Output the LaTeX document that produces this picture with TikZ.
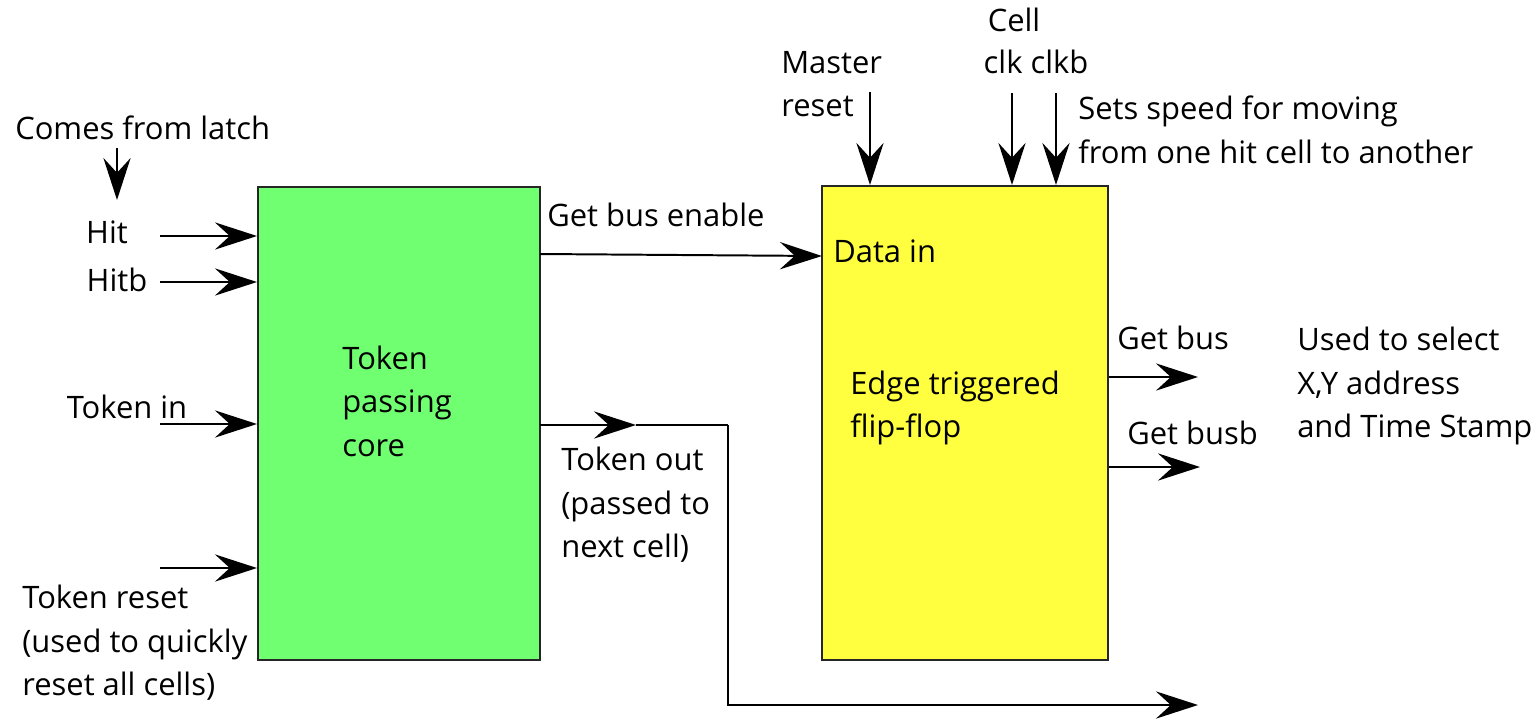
\documentclass[tikz,border=0pt]{standalone}
\usepackage{fontspec}
\setmainfont{Open Sans}
\usetikzlibrary{arrows.meta,positioning}
\definecolor{coregreen}{RGB}{112,255,112}
\definecolor{flopyellow}{RGB}{255,255,64}
\tikzstyle{blockbox} = [draw=black!85, line width=1.4pt, rectangle, inner sep=0pt]
\tikzstyle{lbl} = [inner sep=0pt, align=left, font=\fontsize{22}{31}\selectfont]
\tikzstyle{wire} = [line width=1.4pt]
\tikzstyle{sig} = [wire, -{Stealth[length=1.05cm,width=0.68cm,inset=0.37cm]}]

\begin{document}
\begin{tikzpicture}[x=0.025cm, y=-0.025cm]
\useasboundingbox (0,0) rectangle (1539,719);

% the two blocks
\node[blockbox, fill=coregreen, minimum width=7.05cm, minimum height=11.825cm] (core) at (399,423.5) {};
\node[blockbox, fill=flopyellow, minimum width=7.15cm, minimum height=11.85cm] (flop) at (965,423) {};
\node[lbl, anchor=west] (coretxt) at (342,401) {Token\\passing\\core};
\node[lbl, anchor=west] (floptxt) at (850,408) {Edge triggered\\flip-flop};
\node[lbl, anchor=west] (datain) at (833,251) {Data in};

% labels
\node[lbl, anchor=west] (latch) at (15,128) {Comes from latch};
\node[lbl] (hit) at (107,232) {Hit};
\node[lbl] (hitb) at (117,280) {Hitb};
\node[lbl] (tokin) at (127,407) {Token in};
\node[lbl, anchor=west] (tokrst) at (22,643) {Token reset\\(used to quickly\\reset all cells)};
\node[lbl, anchor=west] (gbe) at (547,215) {Get bus enable};
\node[lbl, anchor=west] (tokout) at (561,505) {Token out\\(passed to\\next cell)};
\node[lbl, anchor=west] (master) at (781,84) {Master\\reset};
\node[lbl] (cell) at (1014,20) {Cell};
\node[lbl] (clks) at (1036,62) {clk clkb};
\node[lbl, anchor=west] (speed) at (1078,130) {Sets speed for moving\\from one hit cell to another};
\node[lbl, anchor=west] (getbus) at (1117,338) {Get bus};
\node[lbl, anchor=west] (getbusb) at (1127,433) {Get busb};
\node[lbl, anchor=west] (usedto) at (1297,386) {Used to select\\X,Y address\\and Time Stamp};

% free ends
\coordinate (latchsrc) at (117,148);
\coordinate (latchend) at (117,200);
\coordinate (hitsrc) at (160,236);
\coordinate (hitbsrc) at (160,282);
\coordinate (toksrc) at (160,424);
\coordinate (rstsrc) at (160,568);
\coordinate (mrstsrc) at (870,92);
\coordinate (clksrc) at (1012,93);
\coordinate (clkbsrc) at (1056,93);
\coordinate (gbestart) at (540,254);
\coordinate (gbeend) at (822,256);
\coordinate (tokstart) at (540,425);
\coordinate (tokmid) at (636,425);
\coordinate (tokcorner) at (728,425);
\coordinate (nextcell) at (1198,705);
\coordinate (gbout) at (1198,377);
\coordinate (gbbout) at (1200,467);

% inputs
\draw[sig] (latchsrc) -- (latchend);
\draw[sig] (hitsrc) -- (hitsrc -| core.west);
\draw[sig] (hitbsrc) -- (hitbsrc -| core.west);
\draw[sig] (toksrc) -- (toksrc -| core.west);
\draw[sig] (rstsrc) -- (rstsrc -| core.west);
\draw[sig] (mrstsrc) -- (mrstsrc |- flop.north);
\draw[sig] (clksrc) -- (clksrc |- flop.north);
\draw[sig] (clkbsrc) -- (clkbsrc |- flop.north);

% between blocks and outputs
\draw[sig] (gbestart) -- (gbeend);
\draw[sig] (tokstart) -- (tokmid);
\draw[wire] (tokmid) -- (tokcorner);
\draw[sig] (tokcorner) |- (nextcell);
\draw[sig] (gbout -| flop.east) -- (gbout);
\draw[sig] (gbbout -| flop.east) -- (gbbout);
\end{tikzpicture}
\end{document}
